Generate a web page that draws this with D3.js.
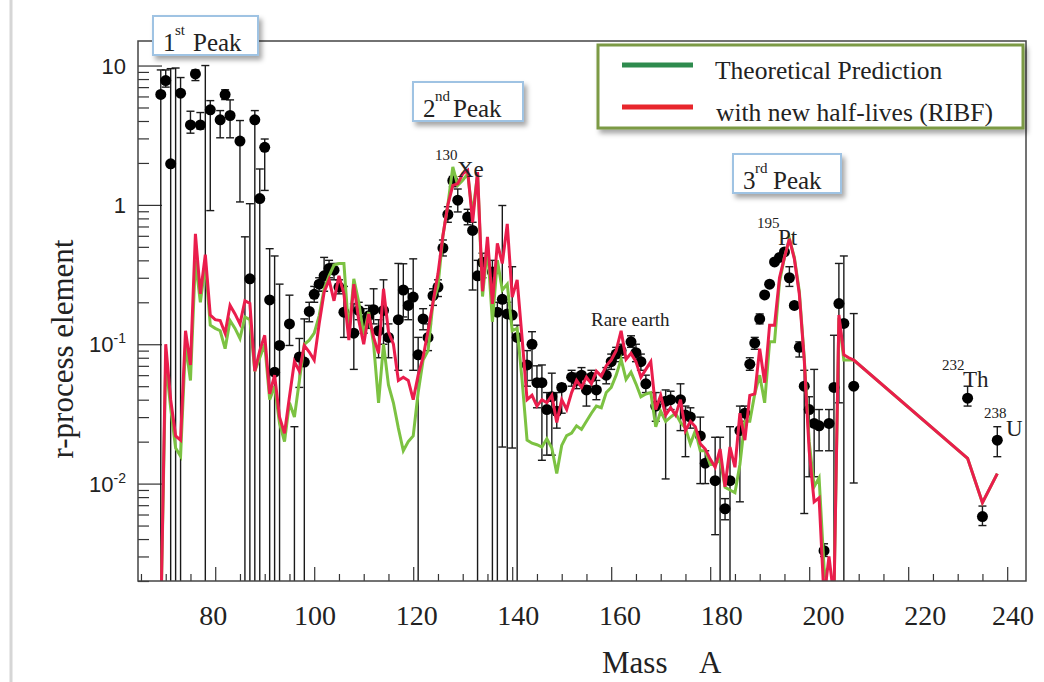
<!DOCTYPE html>
<html><head><meta charset="utf-8">
<script src="https://cdn.jsdelivr.net/npm/d3@7"></script>
<style>body{margin:0;background:#fff;}svg{display:block;}</style>
</head><body>
<svg id="chart" width="1044" height="682"></svg>
<script>
// ---------- DATA ----------
const obsMass  = [69,70,71,72,73,75,76,77,78,79,81,82,83,85,86,87,88,89,90,91,92,93,95,96,97,98,99,100,101,102,103,104,105,106,108,109,110,111,112,113,114,115,117,118,119,120,121,122,123,124,125,126,127,128,129,131,132,133,134,136,137,138,139,140,141,143,144,145,146,147,148,149,150,152,153,154,155,156,157,159,160,161,162,164,165,166,167,169,171,172,174,175,176,178,179,181,182,183,184,186,187,188,189,190,191,192,193,194,195,196,197,198,199,200,201,202,203,204,205,206,207,209,232,235,238];
const obsValue = [6.2,7.8,1.97,0.0015,6.33,3.75,8.71,3.75,0.0015,4.81,4.08,6.19,4.38,2.87,0.0015,0.295,4.08,1.11,2.59,0.208,0.063,0.098,0.14,0.0015,0.081,0.0745,0.172,0.228,0.27,0.31,0.35,0.34,0.257,0.17,0.12,0.175,0.148,0.16,0.177,0.125,0.175,0.112,0.15,0.245,0.19,0.218,0.084,0.152,0.112,0.223,0.257,0.49,0.854,1.49,1.08,0.818,0.656,0.31,0.387,0.33,0.17,0.21,0.165,0.162,0.112,0.071,0.1,0.053,0.053,0.034,0.042,0.033,0.049,0.058,0.055,0.06,0.047,0.058,0.047,0.06,0.075,0.085,0.09,0.104,0.087,0.075,0.052,0.036,0.039,0.04,0.04,0.031,0.03,0.022,0.014,0.0105,0.0015,0.0066,0.0105,0.024,0.032,0.072,0.102,0.152,0.226,0.27,0.39,0.42,0.46,0.30,0.19,0.095,0.05,0.034,0.027,0.026,0.0033,0.027,0.049,0.196,0.141,0.05,0.041,0.0058,0.0205];
const obsLow   = [0.001,7.0,0.001,0.001,0.001,3.27,7.8,3.5,0.001,0.91,3.03,5.7,3.03,1.05,0.001,0.001,0.001,0.001,1.27,0.001,0.001,0.001,0.098,0.001,0.049,0.001,0.145,0.2,0.24,0.24,0.3,0.29,0.23,0.112,0.066,0.15,0.12,0.13,0.14,0.08,0.1,0.08,0.065,0.157,0.15,0.065,0.001,0.127,0.09,0.19,0.22,0.43,0.75,1.35,0.89,0.72,0.245,0.001,0.3,0.001,0.001,0.0183,0.001,0.018,0.001,0.05,0.055,0.035,0.0147,0.016,0.016,0.025,0.032,0.05,0.048,0.052,0.036,0.05,0.04,0.052,0.066,0.075,0.08,0.095,0.075,0.065,0.045,0.028,0.0108,0.034,0.024,0.0156,0.025,0.01,0.01,0.0043,0.001,0.0055,0.001,0.0074,0.028,0.065,0.092,0.14,null,null,null,null,null,0.26,null,0.081,0.0061,0.0112,0.0112,0.0172,0.003,0.0172,0.001,0.038,0.001,0.0101,0.036,0.005,0.0156];
const obsHigh  = [9.3,9.3,9.5,9.6,8.2,4.7,9.3,4.6,10.0,5.6,4.75,6.7,5.67,4.03,0.59,1.02,4.75,1.81,2.97,0.485,0.43,0.27,0.225,0.0256,0.11,0.152,0.2,0.26,0.3,0.42,0.4,0.38,0.29,0.26,0.195,0.2,0.18,0.19,0.25,0.15,0.29,0.14,0.38,0.378,0.25,0.41,0.112,0.18,0.14,0.25,0.29,0.56,0.97,1.6,1.3,0.93,0.75,0.4,0.45,0.4,0.2,0.99,0.2,0.36,0.137,0.09,0.123,0.07,0.071,0.045,0.062,0.045,0.052,0.065,0.062,0.068,0.05,0.065,0.055,0.068,0.085,0.095,0.1,0.115,0.1,0.085,0.06,0.045,0.047,0.046,0.052,0.036,0.035,0.03,0.0172,0.0215,0.0215,0.0078,0.0256,0.036,0.036,0.08,0.112,0.165,null,null,null,null,null,0.36,null,0.104,0.065,0.042,0.066,0.034,0.0037,0.034,0.116,0.38,0.43,0.166,0.05,0.0069,0.0256];

const lineMass = [69,70,71,72,73,74,75,76,77,78,79,80,81,82,83,84,85,86,87,88,89,90,91,92,93,94,95,96,97,98,99,100,101,102,103,104,105,106,107,108,109,110,111,112,113,114,115,116,117,118,119,120,121,122,123,124,125,126,127,128,129,130,131,132,133,134,135,136,137,138,139,140,141,142,143,144,145,146,147,148,149,150,151,152,153,154,155,156,157,158,159,160,161,162,163,164,165,166,167,168,169,170,171,172,173,174,175,176,177,178,179,180,181,182,183,184,185,186,187,188,189,190,191,192,193,194,195,196,197,198,199,200,201,202,203,204,205,206,207,208,209,232,235,238];
const theoValue = [0.001,0.075,0.035,0.018,0.0157,0.1,0.055,0.4,0.2,0.38,0.137,0.13,0.125,0.093,0.148,0.13,0.11,0.157,0.15,0.064,0.08,0.1,0.04,0.05,0.027,0.02,0.038,0.03,0.055,0.1,0.107,0.12,0.16,0.25,0.31,0.37,0.38,0.38,0.12,0.295,0.2,0.116,0.17,0.1,0.038,0.1,0.051,0.038,0.025,0.0172,0.02,0.022,0.045,0.077,0.09,0.2,0.26,0.6,1.0,1.87,1.38,1.5,1.67,0.85,1.67,0.22,0.5,0.145,0.4,0.245,0.27,0.125,0.13,0.055,0.0205,0.0195,0.019,0.0183,0.021,0.018,0.0118,0.0188,0.0221,0.023,0.026,0.0245,0.028,0.032,0.036,0.035,0.045,0.049,0.06,0.078,0.056,0.063,0.052,0.042,0.044,0.045,0.0256,0.033,0.028,0.03,0.032,0.0275,0.025,0.0193,0.024,0.0172,0.0172,0.0137,0.0137,0.015,0.0094,0.009,0.0086,0.0137,0.028,0.028,0.044,0.06,0.038,0.104,0.104,0.28,0.42,0.57,0.42,0.24,0.08,0.02,0.0095,0.011,0.0025,0.0015,0.0015,0.155,0.077,0.077,0.077,0.0152,0.0073,0.0118];
const ribfValue = [0.001,0.1,0.04,0.022,0.0205,0.125,0.071,0.62,0.23,0.44,0.162,0.15,0.148,0.12,0.19,0.165,0.14,0.205,0.196,0.064,0.09,0.116,0.044,0.06,0.03,0.023,0.042,0.075,0.064,0.098,0.088,0.077,0.14,0.236,0.29,0.205,0.31,0.23,0.107,0.27,0.148,0.1,0.165,0.112,0.086,0.25,0.123,0.1,0.055,0.058,0.055,0.04,0.06,0.081,0.125,0.2,0.32,0.6,1.0,1.38,1.42,1.67,1.77,0.75,1.72,0.24,0.59,0.195,0.53,0.38,0.73,0.218,0.29,0.11,0.04,0.043,0.036,0.04,0.038,0.043,0.0275,0.04,0.034,0.045,0.055,0.049,0.058,0.052,0.064,0.059,0.07,0.077,0.09,0.125,0.078,0.086,0.075,0.058,0.066,0.075,0.034,0.043,0.031,0.035,0.031,0.04,0.024,0.028,0.0256,0.0193,0.0177,0.015,0.0131,0.0177,0.0095,0.0183,0.0131,0.032,0.0205,0.043,0.044,0.093,0.053,0.137,0.137,0.30,0.42,0.57,0.41,0.23,0.077,0.0172,0.0074,0.0079,0.0015,0.003,0.0015,0.162,0.084,0.08,0.077,0.0152,0.0073,0.0118];

const xTickValues = [80,100,120,140,160,180,200,220,240];
const yTickValues = [10,1,0.1,0.01];
const yTickBase = ["10","1","10","10"];
const yTickExp  = ["","","-1","-2"];
const seriesNames = ["Theoretical Prediction","with new half-lives (RIBF)"];
const peakNums = ["1","2","3"];
const peakSups = ["st","nd","rd"];
const isoMass = ["130","195","232","238"];
const isoSym  = ["Xe","Pt","Th","U"];

// ---------- LAYOUT ----------
const P = {left:138, right:1026, top:41, bottom:581};
const svg = d3.select('#chart');
const serif = "'Liberation Serif','Times New Roman',serif";
const sans = "'Liberation Sans',Arial,sans-serif";

const x = d3.scaleLinear().domain([64.4, 243.8]).range([P.left, P.right]);
const y = d3.scaleLog().domain([0.002, 15]).range([P.bottom, P.top]);

const defs = svg.append('defs');
defs.append('clipPath').attr('id','clip').append('rect')
  .attr('x',P.left).attr('y',P.top).attr('width',P.right-P.left).attr('height',P.bottom-P.top);
const sh = defs.append('filter').attr('id','shadow').attr('x','-10%').attr('y','-20%').attr('width','130%').attr('height','160%');
sh.append('feDropShadow').attr('dx',3).attr('dy',4).attr('stdDeviation',2.5).attr('flood-color','#000').attr('flood-opacity',0.35);

// page border line at far left
svg.append('line').attr('x1',11).attr('x2',11).attr('y1',0).attr('y2',682)
  .attr('stroke','#d6d6d6').attr('stroke-width',3);

// ---------- AXES ----------
const xMinor = d3.range(65, 244, 5).filter(v => !xTickValues.includes(v));
const gx1 = svg.append('g').attr('transform',`translate(0,${P.bottom})`)
  .call(d3.axisBottom(x).tickValues(xMinor).tickSize(-7).tickFormat(''));
const gx2 = svg.append('g').attr('transform',`translate(0,${P.bottom})`)
  .call(d3.axisBottom(x).tickValues(xTickValues).tickSize(-14).tickFormat(''));
const yMinor = [];
[0.001,0.01,0.1,1,10].forEach(d => { for (let k=2;k<=9;k++){ const v=d*k; if(v>=0.002 && v<=15) yMinor.push(v);} });
const gy1 = svg.append('g').attr('transform',`translate(${P.left},0)`)
  .call(d3.axisLeft(y).tickValues(yMinor).tickSize(-11).tickFormat(''));
const gy2 = svg.append('g').attr('transform',`translate(${P.left},0)`)
  .call(d3.axisLeft(y).tickValues(yTickValues).tickSize(-24).tickFormat(''));
[gx1,gx2,gy1,gy2].forEach(g => { g.select('.domain').remove(); g.selectAll('line').attr('stroke','#333').attr('stroke-width',1.2); });

// x labels (placed slightly right of ticks, as in the source figure)
svg.append('g').selectAll('text').data(xTickValues).join('text')
  .attr('x', d => Math.min(x(d) + (d-80)*0.136 - 2, 1013))
  .attr('y', 625).attr('text-anchor','middle')
  .attr('font-family',serif).attr('font-size',28).attr('fill','#222')
  .text(d => d);

// y labels
const yl = svg.append('g').selectAll('text').data(yTickValues).join('text')
  .attr('x',126).attr('y', d => y(d)+8).attr('text-anchor','end')
  .attr('font-family',sans).attr('font-size',22).attr('fill','#222');
yl.append('tspan').text((d,i)=>yTickBase[i]);
yl.append('tspan').attr('font-size',14).attr('dy',-9).text((d,i)=>yTickExp[i]);

// axis titles
svg.append('text').attr('transform','translate(73,349) rotate(-90)')
  .attr('text-anchor','middle').attr('font-family',serif).attr('font-size',31).attr('fill','#222')
  .text('r-process element');
svg.append('text').attr('x',602).attr('y',673).attr('font-family',serif).attr('font-size',31).attr('fill','#222').text('Mass');
svg.append('text').attr('x',699).attr('y',673).attr('font-family',serif).attr('font-size',31).attr('fill','#222').text('A');

// ---------- DATA MARKS ----------
const obs = obsMass.map((m,i)=>({m, v:obsValue[i], lo:obsLow[i], hi:obsHigh[i]}));
const plotG = svg.append('g').attr('clip-path','url(#clip)');
const eb = plotG.append('g').attr('stroke','#1a1a1a').attr('stroke-width',1.4);
obs.filter(d=>d.lo!==null).forEach(d=>{
  const cx = x(d.m);
  eb.append('line').attr('x1',cx).attr('x2',cx).attr('y1',y(d.hi)).attr('y2',y(d.lo));
  eb.append('line').attr('x1',cx-4).attr('x2',cx+4).attr('y1',y(d.hi)).attr('y2',y(d.hi));
  eb.append('line').attr('x1',cx-4).attr('x2',cx+4).attr('y1',y(d.lo)).attr('y2',y(d.lo));
});
plotG.append('g').selectAll('circle').data(obs).join('circle')
  .attr('cx',d=>x(d.m)).attr('cy',d=>y(d.v)).attr('r',5.5).attr('fill','#000');

const line = d3.line().x(d=>x(d[0])).y(d=>y(d[1]));
plotG.append('path').datum(lineMass.map((m,i)=>[m,theoValue[i]]))
  .attr('d',line).attr('fill','none').attr('stroke','#7cc242').attr('stroke-width',3).attr('stroke-linejoin','miter');
plotG.append('path').datum(lineMass.map((m,i)=>[m,ribfValue[i]]))
  .attr('d',line).attr('fill','none').attr('stroke','#ea1d4c').attr('stroke-width',3).attr('stroke-linejoin','miter');

// frame
svg.append('rect').attr('x',P.left).attr('y',P.top).attr('width',P.right-P.left).attr('height',P.bottom-P.top)
  .attr('fill','none').attr('stroke','#444').attr('stroke-width',1.5);

// ---------- ANNOTATIONS ----------
const isoPos = [[435,160,457,177],[757,228,778,245],[942,370,963,387],[984,418,1006,436]];
isoPos.forEach((p,i)=>{
  svg.append('text').attr('x',p[0]).attr('y',p[1]).attr('font-family',serif).attr('font-size',15).attr('fill','#222').text(isoMass[i]);
  svg.append('text').attr('x',p[2]).attr('y',p[3]).attr('font-family',serif).attr('font-size',23).attr('fill','#222').text(isoSym[i]);
});
svg.append('text').attr('x',591).attr('y',326).attr('font-family',serif).attr('font-size',19).attr('fill','#222').text('Rare earth');

const peakBox = [[153,16,105,39],[413,82,110,39],[733,154,108,39]];
peakBox.forEach((b,i)=>{
  const g = svg.append('g');
  g.append('rect').attr('x',b[0]).attr('y',b[1]).attr('width',b[2]).attr('height',b[3])
    .attr('fill','#fff').attr('stroke','#9fc3e3').attr('stroke-width',2).attr('filter','url(#shadow)');
  const base = b[1]+b[3]-4;
  g.append('text').attr('x',b[0]+10).attr('y',base).attr('font-family',serif).attr('font-size',25).attr('fill','#222').text(peakNums[i]);
  g.append('text').attr('x',b[0]+22).attr('y',base-16).attr('font-family',serif).attr('font-size',15).attr('fill','#222').text(peakSups[i]);
  g.append('text').attr('x',b[0]+40).attr('y',base).attr('font-family',serif).attr('font-size',25).attr('fill','#222').text('Peak');
});

// legend
const lg = svg.append('g');
lg.append('rect').attr('x',598).attr('y',45).attr('width',425).attr('height',83)
  .attr('fill','#fff').attr('stroke','#7b9a45').attr('stroke-width',3).attr('filter','url(#shadow)');
const legColors = ['#2e8b4e','#e8262c'];
seriesNames.forEach((s,i)=>{
  const yy = 65 + i*42;
  lg.append('line').attr('x1',622).attr('x2',693).attr('y1',yy).attr('y2',yy)
    .attr('stroke',legColors[i]).attr('stroke-width',5);
  lg.append('text').attr('x',715+i).attr('y',yy+14).attr('font-family',serif).attr('font-size',25.5).attr('fill','#222').text(s);
});
</script>
</body></html>
